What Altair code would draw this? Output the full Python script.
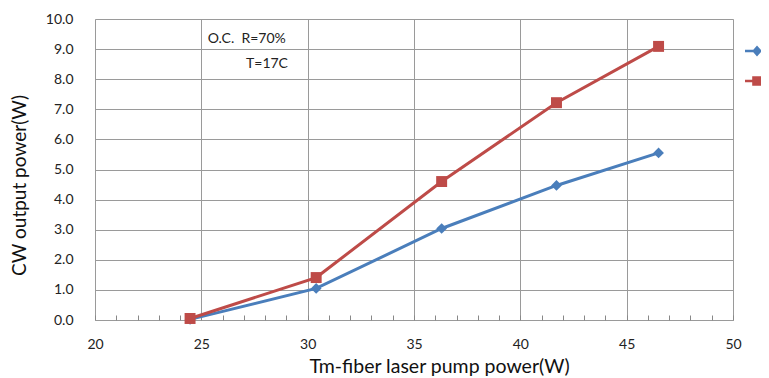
import altair as alt
import pandas as pd

pump = [24.47, 30.4, 36.3, 41.7, 46.5]
blue_vals = [0.02, 1.05, 3.04, 4.47, 5.55]
red_vals = [0.05, 1.41, 4.6, 7.22, 9.09]
series_names = ["Series1", "Series2"]
colors = ["#4A7EBB", "#BE4B48"]

rows = []
for name, vals in zip(series_names, [blue_vals, red_vals]):
    for x, y in zip(pump, vals):
        rows.append({"pump": x, "power": y, "series": name})
df = pd.DataFrame(rows)

ann_x = [25.3, 27.1]
ann_y = [9.35, 8.5]
ann_text = ["O.C.\u00a0\u00a0R=70%", "T=17C"]
ann = pd.DataFrame({"pump": ann_x, "power": ann_y, "t": ann_text})

minor_ticks = list(range(20, 51))
y_ticks = [float(v) for v in range(0, 11)]
FONT = "Lato"
W, H = 638, 301

xscale = alt.Scale(domain=[20, 50], nice=False, zero=False)
yscale = alt.Scale(domain=[0, 10], nice=False)
cscale = alt.Scale(domain=series_names, range=colors)

# legend symbols: short line with the series marker on it
legend_paths = [
    "M-1,-0.11L1,-0.11L1,0.11L-1,0.11Z M0,-0.46L0.4,0L0,0.46L-0.4,0Z",
    "M-1,-0.11L1,-0.11L1,0.11L-1,0.11Z M-0.4,-0.4L0.4,-0.4L0.4,0.4L-0.4,0.4Z",
]

LEG = alt.Legend(orient="none", legendX=650, legendY=20, title=None,
                 symbolSize=576, symbolStrokeWidth=0, symbolOpacity=1,
                 labelFontSize=13, labelFont=FONT, rowPadding=11, padding=0)

x_main = alt.X("pump:Q", scale=xscale, axis=alt.Axis(
    values=[20, 25, 30, 35, 40, 45, 50], title="Tm-fiber laser pump power(W)",
    grid=True, gridColor="#9a9a9a", gridWidth=1, domain=False, ticks=False,
    labelPadding=17, labelFontSize=14, labelFont=FONT, labelColor="#222",
    titleFont=FONT, titleFontSize=19.5, titleFontWeight="normal", titleColor="#111",
    titleX=344, titleY=46, titleBaseline="middle", labelFlush=False))
y_main = alt.Y("power:Q", scale=yscale, axis=alt.Axis(
    values=y_ticks, format=".1f", title="CW output power(W)",
    grid=True, gridColor="#9a9a9a", gridWidth=1, domain=False, ticks=False,
    labelPadding=22, labelFontSize=14, labelFont=FONT, labelColor="#222", labelOverlap=False,
    titleFont=FONT, titleFontSize=19, titleFontWeight="normal", titleColor="#111",
    titleX=-76, titleY=166, titleBaseline="middle"))
y_none = alt.Y("power:Q", scale=yscale, axis=None)
x_none = alt.X("pump:Q", scale=xscale, axis=None)

color_enc = alt.Color("series:N", scale=cscale, legend=LEG)

lines = alt.Chart(df).mark_line(strokeWidth=3).encode(x=x_main, y=y_main, color=color_enc)

pts_blue = alt.Chart(df).transform_filter(alt.datum.series == series_names[0]).mark_point(
    filled=True, opacity=1, shape="diamond", size=115).encode(x=x_none, y=y_none, color=color_enc)
pts_red = alt.Chart(df).transform_filter(alt.datum.series == series_names[1]).mark_point(
    filled=True, opacity=1, shape="square", size=120).encode(x=x_none, y=y_none, color=color_enc)

legend_layer = alt.Chart(df).mark_point(filled=True, opacity=0).encode(
    x=x_none, y=y_none, color=color_enc,
    shape=alt.Shape("series:N", scale=alt.Scale(domain=series_names, range=legend_paths), legend=LEG),
)

minor = alt.Chart(pd.DataFrame({"pump": [20]})).mark_point(opacity=0).encode(
    x=alt.X("pump:Q", scale=xscale, axis=alt.Axis(
        orient="top", offset=-H, values=minor_ticks, labels=False, domain=False, grid=False,
        ticks=True, tickSize=5, tickColor="#888", tickWidth=1, title=None)),
)

texts = alt.Chart(ann).mark_text(align="left", baseline="middle", fontSize=14, font=FONT, color="#222").encode(
    x=x_none, y=y_none, text="t:N",
)

chart = alt.layer(lines, pts_blue, pts_red, legend_layer, minor, texts).resolve_axis(
    x="independent", y="independent").properties(
    width=W, height=H,
    autosize=alt.AutoSizeParams(type="none"),
    padding={"left": 87, "top": 11, "right": 28, "bottom": 58},
).configure_view(stroke="#8a8a8a", strokeWidth=1).configure(background="white")

chart.save("out.html", embed_options={"renderer": "svg", "actions": False})
